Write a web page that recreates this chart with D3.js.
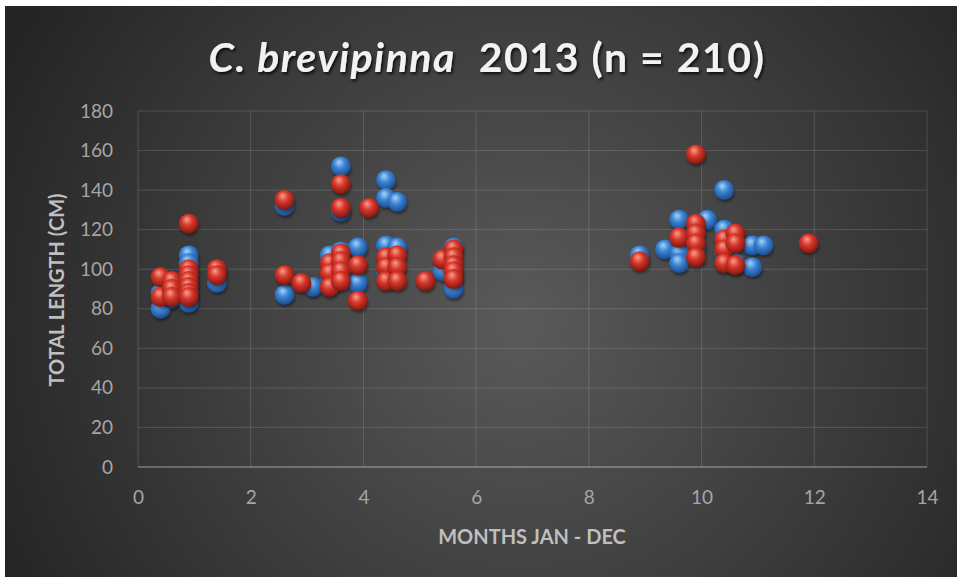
<!DOCTYPE html>
<html lang="en">
<head>
<meta charset="utf-8">
<title>C. brevipinna 2013</title>
<script src="https://d3js.org/d3.v7.min.js"></script>
<style>
  body { margin: 0; background: #fff; }
  text { font-family: Lato, "Open Sans", sans-serif; }
</style>
</head>
<body>
<script>
// month (x) / total length cm (y)
var blueSeries = [
  [0.4, 80], [0.4, 88], [0.6, 85], [0.9, 107], [0.9, 103], [0.9, 98], [0.9, 93], [0.9, 88], [0.9, 83], [1.4, 93],
  [2.6, 132], [2.6, 87], [3.1, 91], [3.4, 107], [3.4, 95], [3.6, 152], [3.6, 129], [3.6, 109], [3.6, 97],
  [3.9, 111], [3.9, 93], [4.4, 145], [4.4, 136], [4.4, 112], [4.4, 98], [4.6, 134], [4.6, 111],
  [5.4, 99], [5.6, 111], [5.6, 96], [5.6, 90],
  [8.9, 107], [9.35, 110], [9.6, 125], [9.6, 108], [9.6, 103], [9.9, 110], [10.1, 125], [10.4, 140],
  [10.4, 120], [10.4, 108], [10.6, 103], [10.9, 112], [10.9, 101], [11.1, 112]
];
var redSeries = [
  [0.4, 96], [0.4, 86], [0.6, 94], [0.6, 90], [0.6, 86], [0.9, 123], [0.9, 100], [0.9, 97], [0.9, 94],
  [0.9, 91], [0.9, 88], [0.9, 86], [1.4, 100], [1.4, 97],
  [2.6, 135], [2.6, 97], [2.9, 93], [3.4, 103], [3.4, 98], [3.4, 91], [3.6, 143], [3.6, 131], [3.6, 108],
  [3.6, 104], [3.6, 99], [3.6, 94], [3.9, 102], [3.9, 84], [4.1, 131], [4.4, 106], [4.4, 101], [4.4, 94],
  [4.6, 107], [4.6, 101], [4.6, 94], [5.1, 94], [5.4, 105], [5.6, 110], [5.6, 106], [5.6, 102], [5.6, 99], [5.6, 95],
  [8.9, 104], [9.6, 116], [9.9, 158], [9.9, 123], [9.9, 118], [9.9, 113], [9.9, 106], [10.4, 115], [10.4, 110],
  [10.4, 103], [10.6, 118], [10.6, 113], [10.6, 102], [11.9, 113]
];
var xTicks = [0, 2, 4, 6, 8, 10, 12, 14];
var yTicks = [0, 20, 40, 60, 80, 100, 120, 140, 160, 180];

var w = 958, h = 581;
var plot = {left: 138, right: 927, top: 111, bottom: 467};

var svg = d3.select("body").append("svg")
    .attr("width", w)
    .attr("height", h);

var defs = svg.append("defs");

var bg = defs.append("radialGradient").attr("id", "bg")
    .attr("gradientUnits", "userSpaceOnUse")
    .attr("cx", 520).attr("cy", 320).attr("r", 580);
bg.append("stop").attr("offset", "0%").attr("stop-color", "#5a5a5a");
bg.append("stop").attr("offset", "100%").attr("stop-color", "#242424");

function sphere(id, hi, mid, lo) {
  var g = defs.append("radialGradient").attr("id", id)
      .attr("cx", "45%").attr("cy", "40%").attr("r", "60%")
      .attr("fx", "40%").attr("fy", "28%");
  g.append("stop").attr("offset", "0%").attr("stop-color", hi);
  g.append("stop").attr("offset", "45%").attr("stop-color", mid);
  g.append("stop").attr("offset", "100%").attr("stop-color", lo);
}
sphere("ballBlue", "#a9d3f7", "#3d86d6", "#1b4a8c");
sphere("ballRed", "#f5a090", "#d9372b", "#7e1710");

var shadow = defs.append("filter").attr("id", "shadow")
    .attr("x", "-50%").attr("y", "-50%").attr("width", "200%").attr("height", "200%");
shadow.append("feGaussianBlur").attr("stdDeviation", 1.5);

var titleShadow = defs.append("filter").attr("id", "tshadow");
titleShadow.append("feDropShadow").attr("dx", 1.5).attr("dy", 2)
    .attr("stdDeviation", 1.5).attr("flood-color", "#000").attr("flood-opacity", 0.8);

svg.append("rect")
    .attr("x", 5).attr("y", 6)
    .attr("width", 952).attr("height", 571)
    .attr("fill", "url(#bg)");

var x = d3.scaleLinear().domain([0, 14]).range([plot.left, plot.right]);
var y = d3.scaleLinear().domain([0, 180]).range([plot.bottom, plot.top]);

// gridlines
svg.append("g")
  .selectAll("line")
  .data(xTicks)
  .join("line")
    .attr("x1", d => x(d)).attr("x2", d => x(d))
    .attr("y1", plot.top).attr("y2", plot.bottom)
    .attr("stroke", "rgba(255,255,255,0.14)")
    .attr("stroke-width", 1);

svg.append("g")
  .selectAll("line")
  .data(yTicks)
  .join("line")
    .attr("x1", plot.left).attr("x2", plot.right)
    .attr("y1", d => y(d)).attr("y2", d => y(d))
    .attr("stroke", d => d === 0 ? "rgba(255,255,255,0.35)" : "rgba(255,255,255,0.14)")
    .attr("stroke-width", d => d === 0 ? 1.5 : 1);

// axes (labels only)
var xAxis = svg.append("g")
    .attr("transform", "translate(0," + (plot.bottom + 20) + ")")
    .call(d3.axisBottom(x).tickValues(xTicks).tickSize(0));
xAxis.select(".domain").remove();
xAxis.selectAll("text")
    .attr("fill", "#a6a6a6")
    .attr("font-size", "19px");

var yAxis = svg.append("g")
    .attr("transform", "translate(" + (plot.left - 22) + ",0)")
    .call(d3.axisLeft(y).tickValues(yTicks).tickSize(0));
yAxis.select(".domain").remove();
yAxis.selectAll("text")
    .attr("fill", "#a6a6a6")
    .attr("font-size", "19px");

// points
function drawSeries(data, fill) {
  var g = svg.append("g");
  g.selectAll("ellipse")
    .data(data)
    .join("ellipse")
      .attr("cx", d => x(d[0]) + 1)
      .attr("cy", d => y(d[1]) + 3)
      .attr("rx", 9.5).attr("ry", 9)
      .attr("fill", "rgba(0,0,0,0.45)")
      .attr("filter", "url(#shadow)");
  g.selectAll("circle")
    .data(data)
    .join("circle")
      .attr("cx", d => x(d[0]))
      .attr("cy", d => y(d[1]))
      .attr("r", 10)
      .attr("fill", fill);
}
drawSeries(blueSeries, "url(#ballBlue)");
drawSeries(redSeries, "url(#ballRed)");

// titles
var title = svg.append("text")
    .attr("x", 487).attr("y", 72)
    .attr("text-anchor", "middle")
    .attr("fill", "#f2f2f2")
    .attr("font-size", "41px")
    .attr("font-weight", "bold")
    .attr("letter-spacing", "1.5px")
    .attr("filter", "url(#tshadow)");
title.append("tspan").attr("font-style", "italic").text("C. brevipinna");
title.append("tspan").text("\u00a0\u00a02013 (n = 210)");

svg.append("text")
    .attr("transform", "translate(64,290) rotate(-90)")
    .attr("text-anchor", "middle")
    .attr("fill", "#bfbfbf")
    .attr("font-size", "20px")
    .attr("font-weight", "bold")
    .text("TOTAL LENGTH (CM)");

svg.append("text")
    .attr("x", 532).attr("y", 544)
    .attr("text-anchor", "middle")
    .attr("fill", "#bfbfbf")
    .attr("font-size", "20px")
    .attr("font-weight", "bold")
    .text("MONTHS JAN - DEC");
</script>
</body>
</html>
